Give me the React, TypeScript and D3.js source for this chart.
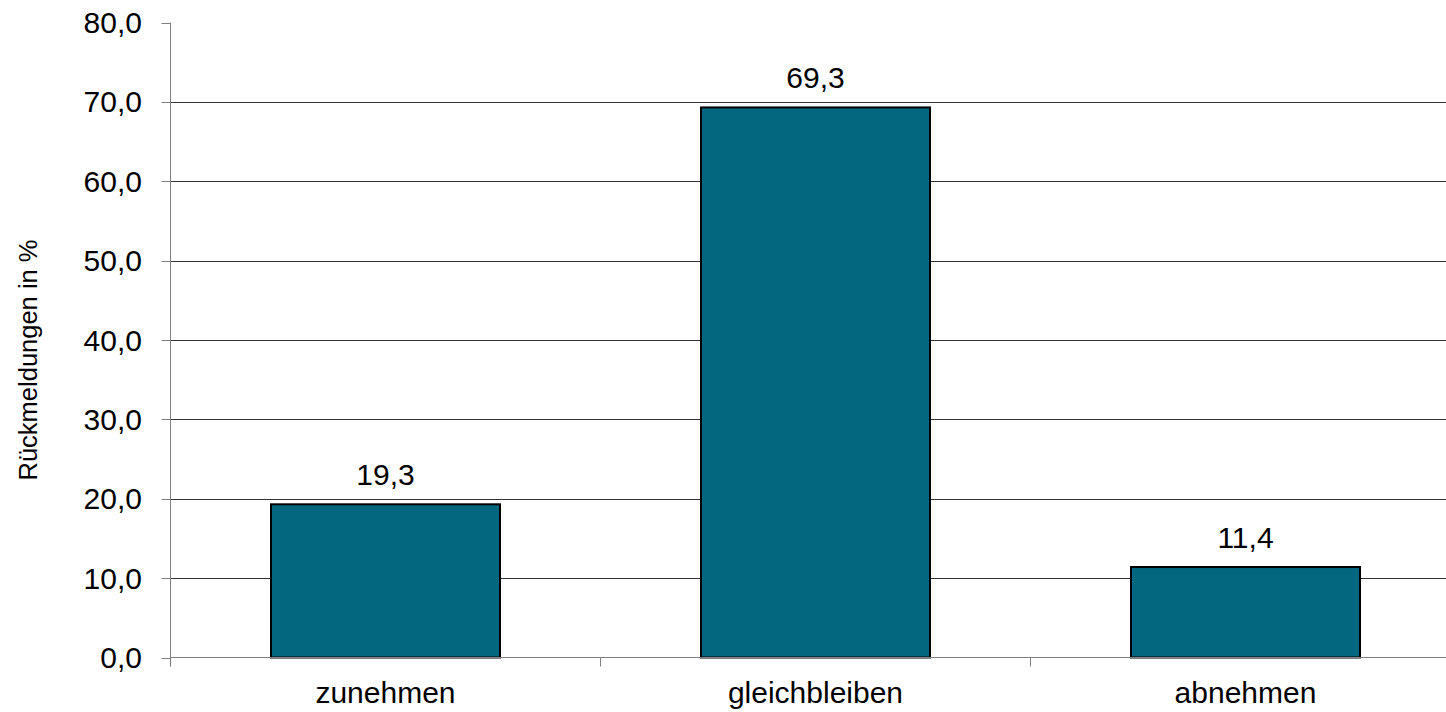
import React from "react";
import * as d3 from "d3";

const categories = ["zunehmen", "gleichbleiben", "abnehmen"];
const values = [19.3, 69.3, 11.4];
const yTicks = [0, 10, 20, 30, 40, 50, 60, 70, 80];
const yTitle = "Rückmeldungen in %";

const W = 1446;
const H = 712;
const left = 170.5;
const bandW = 430;
const top = 22.5;
const bottom = 657.5;

export default function App() {
  const x = d3
    .scaleBand<string>()
    .domain(categories)
    .range([left, left + bandW * categories.length])
    .paddingInner(0)
    .paddingOuter(0);
  const y = d3.scaleLinear().domain([0, 80]).range([bottom, top]);
  const barW = 229;
  const fmt = (v: number) => v.toFixed(1).replace(".", ",");
  const font = "'Liberation Sans', Arial, sans-serif";
  const fs = 30;

  return (
    <svg
      width={W}
      height={H}
      style={{ position: "absolute", left: 0, top: 0, display: "block" }}
      fontFamily={font}
    >
      <rect x={0} y={0} width={W} height={H} fill="#fff" />
      {yTicks.map((t) => (
        <g key={t}>
          {t > 0 && t < 80 && (
            <line x1={left} x2={W} y1={Math.round(y(t)) + 0.5} y2={Math.round(y(t)) + 0.5} stroke="#333" strokeWidth={1} />
          )}
          <line x1={left - 9} x2={left} y1={Math.round(y(t)) + 0.5} y2={Math.round(y(t)) + 0.5} stroke="#808080" strokeWidth={1} />
          <text x={142} y={y(t) + 10.5} textAnchor="end" fontSize={fs} fill="#000">
            {fmt(t)}
          </text>
        </g>
      ))}
      {categories.map((c, i) => {
        const cx = (x(c) as number) + x.bandwidth() / 2;
        const v = values[i];
        return (
          <g key={c}>
            <rect
              x={Math.round(cx - barW / 2)}
              y={y(v)}
              width={barW}
              height={bottom - y(v)}
              fill="#02677F"
              stroke="#000"
              strokeWidth={2}
            />
            <text x={cx} y={y(v) - 19} textAnchor="middle" fontSize={fs} fill="#000">
              {fmt(v)}
            </text>
            <text x={cx} y={703} textAnchor="middle" fontSize={fs} fill="#000">
              {c}
            </text>
          </g>
        );
      })}
      <line x1={left} x2={W} y1={bottom} y2={bottom} stroke="#808080" strokeWidth={1} />
      {categories.map((c) => (
        <line key={c} x1={(x(c) as number)} x2={(x(c) as number)} y1={bottom} y2={bottom + 9} stroke="#808080" strokeWidth={1} />
      ))}
      <line x1={left} x2={left} y1={top} y2={bottom + 9} stroke="#808080" strokeWidth={1} />
      <text
        transform={`translate(37,360) rotate(-90)`}
        textAnchor="middle"
        fontSize={25.5}
        fill="#000"
      >
        {yTitle}
      </text>
    </svg>
  );
}
